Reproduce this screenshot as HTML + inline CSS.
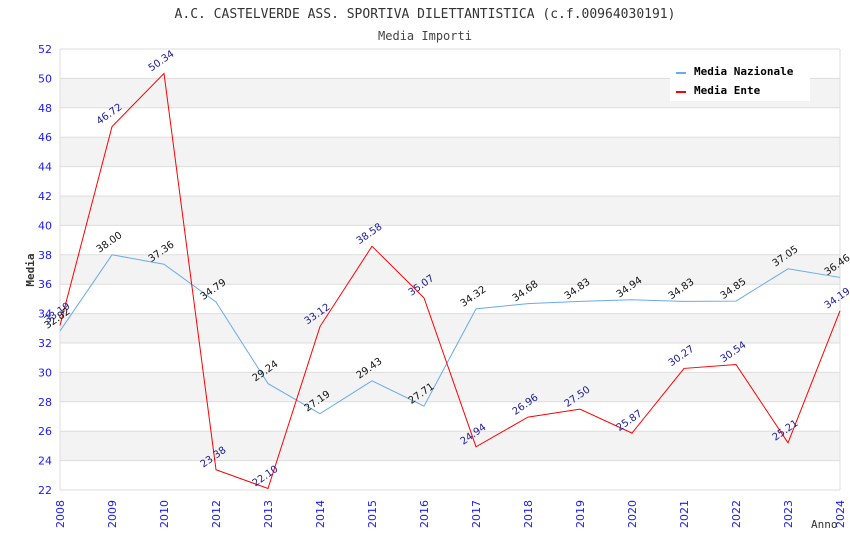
<!DOCTYPE html>
<html><head><meta charset="utf-8"><style>body{margin:0;background:#fff}svg{display:block}</style></head>
<body>
<svg id="chart" width="850" height="550" xmlns="http://www.w3.org/2000/svg" font-family="DejaVu Sans Mono, Liberation Mono, monospace">
<text x="425" y="18" text-anchor="middle" font-size="13" fill="#333">A.C. CASTELVERDE ASS. SPORTIVA DILETTANTISTICA (c.f.00964030191)</text>
<text x="425" y="40" text-anchor="middle" font-size="12" fill="#444">Media Importi</text>
<g id="bands"></g><g id="grid"></g><g id="yticks"></g><g id="xticks"></g>
<g id="series"></g><g id="labels"></g>
<text transform="translate(34,270) rotate(-90)" text-anchor="middle" font-size="11" font-weight="bold" fill="#333">Media</text>
<text x="811" y="528" font-size="11" fill="#333">Anno</text>
<g>
<rect x="670" y="60" width="140" height="41" fill="#fff"/>
<rect x="676" y="72" width="10" height="2" fill="#6aaaf0"/>
<text x="694" y="75" font-size="11" font-weight="bold" fill="#000">Media Nazionale</text>
<rect x="676" y="91" width="10" height="2" fill="#f00"/>
<text x="694" y="94" font-size="11" font-weight="bold" fill="#000">Media Ente</text>
</g>
</svg>
<script>
const categories=["2008","2009","2010","2012","2013","2014","2015","2016","2017","2018","2019","2020","2021","2022","2023","2024"];
const nazionale=[32.82,38.00,37.36,34.79,29.24,27.19,29.43,27.71,34.32,34.68,34.83,34.94,34.83,34.85,37.05,36.46];
const ente=[33.19,46.72,50.34,23.38,22.10,33.12,38.58,35.07,24.94,26.96,27.50,25.87,30.27,30.54,25.21,34.19];
const yTicks=[22,24,26,28,30,32,34,36,38,40,42,44,46,48,50,52];
const X0=60,X1=840,Y0=490,Y1=49,ymin=22,ymax=52;
const NS="http://www.w3.org/2000/svg";
const xs=i=>X0+i*(X1-X0)/(categories.length-1);
const ys=v=>Y0-(v-ymin)/(ymax-ymin)*(Y0-Y1);
function mk(p,t,a){const e=document.createElementNS(NS,t);for(const k in a)e.setAttribute(k,a[k]);document.getElementById(p).appendChild(e);return e;}
for(let i=0;i<yTicks.length-1;i++){const a=yTicks[i];if(a%4===0){const r=mk('bands','rect',{x:X0,y:ys(a+2),width:X1-X0,height:ys(a)-ys(a+2),fill:'#f3f3f3'});

}}
yTicks.forEach(v=>{const l=mk('grid','line',{x1:X0,x2:X1,y1:ys(v),y2:ys(v),stroke:'#dddddd'});


const t=mk('yticks','text',{x:X0-8,y:ys(v)+4,'text-anchor':'end','font-size':11,fill:'#1a1aff','font-family':'DejaVu Sans, sans-serif'});t.textContent=v;

});
mk('grid','line',{x1:X0,x2:X0,y1:Y1,y2:Y0,stroke:'#ddd'});mk('grid','line',{x1:X1,x2:X1,y1:Y1,y2:Y0,stroke:'#ddd'});
categories.forEach((c,i)=>{const t=mk('xticks','text',{transform:`translate(${xs(i)+4},${Y0+38}) rotate(-90)`,'font-size':11,fill:'#1a1aff','font-family':'DejaVu Sans, sans-serif'});t.textContent=c;

});
function series(d,col,lc,name){const p=mk('series','polyline',{points:d.map((v,i)=>xs(i)+','+ys(v)).join(' '),fill:'none',stroke:col,'stroke-width':1});


d.forEach((v,i)=>{const x=xs(i)-1,y=ys(v)-10;const t=mk('labels','text',{transform:`translate(${x},${y}) rotate(-35)`,'text-anchor':'middle','font-size':10,fill:lc,'font-family':'DejaVu Sans, sans-serif'});t.textContent=v.toFixed(2);

});}
series(nazionale,'#6aaaf0','#111','line-media-nazionale');
series(ente,'#ff0000','#1a1a99','line-media-ente');
</script>
</body></html>
